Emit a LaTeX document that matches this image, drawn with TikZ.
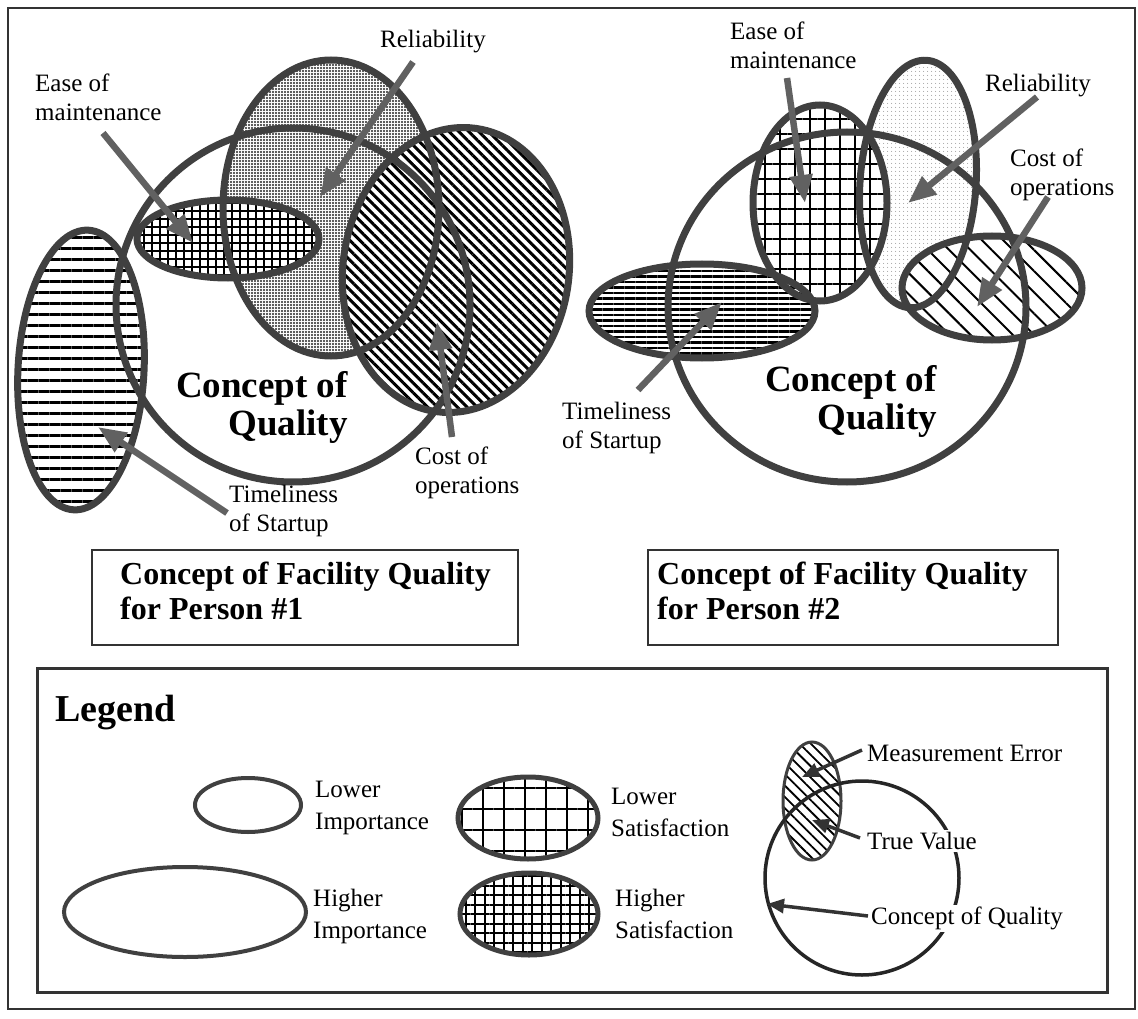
\documentclass[tikz,border=0pt]{standalone}
\usepackage{fontspec}
\setmainfont{Liberation Serif}
\usetikzlibrary{arrows.meta, patterns.meta}

\begin{document}
\begin{tikzpicture}[x=1pt, y=-1pt, >={Triangle[length=28pt,width=22pt]},
    rim/.style={draw=black!75, line width=7pt},
    legrim/.style={draw=black!75, line width=4pt},
    under/.style={preaction={fill=white}},
    pointer/.style={->, draw=black!62, line width=6.5pt},
    legpointer/.style={-{Triangle[length=17pt,width=14pt]}, draw=black!80, line width=3.5pt},
    lbl/.style={inner sep=0pt, anchor=north west, align=left, font=\fontsize{25}{28.5}\selectfont},
    leglbl/.style={lbl, font=\fontsize{25}{32}\selectfont},
    bigbold/.style={inner sep=0pt, anchor=north east, align=right, font=\bfseries\fontsize{37}{38}\selectfont},
    title/.style={inner sep=0pt, anchor=north west, align=left, font=\bfseries\fontsize{32}{35}\selectfont},
    frame/.style={draw=black!80, line width=2.5pt}]

  \useasboundingbox (0,0) rectangle (1138,1019);
  \draw[frame, line width=2pt] (8,8) rectangle (1135,1009);

  % person 1
  \coordinate (rel1) at (331,208);
  \coordinate (ease1) at (228,239);
  \coordinate (cost1) at (456,270);
  \coordinate (time1) at (81,370);
  \coordinate (cq1) at (293,305);

  \path[under, pattern={Dots[distance=3pt,radius=1.15pt]}, pattern color=black!85] (rel1) ellipse [x radius=108, y radius=148];
  \path[under, pattern={Hatch[distance=8pt,line width=2.5pt]}] (ease1) ellipse [x radius=91, y radius=39];
  \path[under, pattern={Lines[angle=-45,distance=7pt,line width=3pt]}, rotate around={-8:(cost1)}] (cost1) ellipse [x radius=113, y radius=143];
  \path[under, pattern={Lines[distance=11pt,line width=3pt]}, rotate around={-3:(time1)}] (time1) ellipse [x radius=63, y radius=140];

  \draw[rim] (rel1) ellipse [x radius=108, y radius=148];
  \draw[rim] (ease1) ellipse [x radius=91, y radius=39];
  \draw[rim, rotate around={-8:(cost1)}] (cost1) ellipse [x radius=113, y radius=143];
  \draw[rim, rotate around={-3:(time1)}] (time1) ellipse [x radius=63, y radius=140];
  \draw[rim] (cq1) circle [radius=177];

  \node[lbl] (rel1 lbl) at (380,30) {Reliability};
  \node[lbl] (ease1 lbl) at (35,74) {Ease of\\maintenance};
  \node[lbl] (cost1 lbl) at (415,447) {Cost of\\operations};
  \node[lbl] (time1 lbl) at (229,485) {Timeliness\\of Startup};
  \node[bigbold] (cq1 lbl) at (348,371) {Concept of\\Quality};

  \coordinate (rel1 tail) at (413,62);
  \coordinate (rel1 tip) at (320,197);
  \coordinate (ease1 tail) at (103,133);
  \coordinate (ease1 tip) at (193,243);
  \coordinate (cost1 tail) at (452,437);
  \coordinate (cost1 tip) at (437,322);
  \coordinate (time1 tail) at (227,513);
  \coordinate (time1 tip) at (98,427);
  \draw[pointer] (rel1 tail) -- (rel1 tip);
  \draw[pointer] (ease1 tail) -- (ease1 tip);
  \draw[pointer] (cost1 tail) -- (cost1 tip);
  \draw[pointer] (time1 tail) -- (time1 tip);

  % person 2
  \coordinate (rel2) at (918,184);
  \coordinate (ease2) at (820,203);
  \coordinate (cost2) at (992,288);
  \coordinate (time2) at (702,311);
  \coordinate (cq2) at (847,307);

  \path[under, pattern={Dots[distance=4pt,radius=0.55pt]}, pattern color=black!55, rotate around={-4:(rel2)}] (rel2) ellipse [x radius=58, y radius=124];
  \path[under, pattern={Hatch[distance=15pt,line width=1.8pt]}] (ease2) ellipse [x radius=67, y radius=98];
  \path[under, pattern={Lines[distance=5.5pt,line width=2.5pt]}] (time2) ellipse [x radius=113, y radius=47];
  \path[under, pattern={Lines[angle=-45,distance=15pt,line width=2pt]}] (cost2) ellipse [x radius=90, y radius=52];

  \draw[rim, rotate around={-4:(rel2)}] (rel2) ellipse [x radius=58, y radius=124];
  \draw[rim] (ease2) ellipse [x radius=67, y radius=98];
  \draw[rim] (time2) ellipse [x radius=113, y radius=47];
  \draw[rim] (cost2) ellipse [x radius=90, y radius=52];
  \draw[rim] (cq2) ellipse [x radius=179, y radius=175];

  \node[lbl] (ease2 lbl) at (730,22) {Ease of\\maintenance};
  \node[lbl] (rel2 lbl) at (985,74) {Reliability};
  \node[lbl] (cost2 lbl) at (1010,149) {Cost of\\operations};
  \node[lbl] (time2 lbl) at (562,402) {Timeliness\\of Startup};
  \node[bigbold] (cq2 lbl) at (937,365) {Concept of\\Quality};

  \coordinate (ease2 tail) at (787,78);
  \coordinate (ease2 tip) at (805,203);
  \coordinate (rel2 tail) at (1037,97);
  \coordinate (rel2 tip) at (908,203);
  \coordinate (cost2 tail) at (1048,197);
  \coordinate (cost2 tip) at (977,307);
  \coordinate (time2 tail) at (638,390);
  \coordinate (time2 tip) at (722,302);
  \draw[pointer] (ease2 tail) -- (ease2 tip);
  \draw[pointer] (rel2 tail) -- (rel2 tip);
  \draw[pointer] (cost2 tail) -- (cost2 tip);
  \draw[pointer] (time2 tail) -- (time2 tip);

  % captions
  \draw[frame] (92,550) rectangle (518,645);
  \node[title] (cap1) at (120,562) {Concept of Facility Quality\\for Person \#1};
  \draw[frame] (648,550) rectangle (1058,645);
  \node[title] (cap2) at (657,562) {Concept of Facility Quality\\for Person \#2};

  % legend
  \draw[frame, line width=3pt] (37,668) rectangle (1107,992);
  \node[inner sep=0pt, anchor=north west, font=\bfseries\fontsize{38}{40}\selectfont] (leg) at (55,695) {Legend};

  \coordinate (li) at (248,805);
  \coordinate (hi) at (185,912);
  \coordinate (ls) at (528,818);
  \coordinate (hs) at (529,914);
  \coordinate (me) at (812,801);
  \coordinate (cq) at (862,878);

  \draw[legrim] (li) ellipse [x radius=53, y radius=27];
  \draw[legrim] (hi) ellipse [x radius=121, y radius=45];
  \path[under, pattern={Hatch[distance=21pt,line width=2pt]}] (ls) ellipse [x radius=70, y radius=41];
  \draw[legrim, line width=5pt] (ls) ellipse [x radius=70, y radius=41];
  \path[under, pattern={Hatch[distance=9.5pt,line width=2pt]}] (hs) ellipse [x radius=69, y radius=41];
  \draw[legrim, line width=5pt] (hs) ellipse [x radius=69, y radius=41];
  \path[under, pattern={Lines[angle=-45,distance=8pt,line width=1.8pt]}] (me) ellipse [x radius=29, y radius=59];
  \draw[legrim, line width=3pt] (me) ellipse [x radius=29, y radius=59];
  \draw[draw=black!85, line width=3.5pt] (cq) circle [radius=97];

  \node[leglbl] (li lbl) at (315,781) {Lower\\Importance};
  \node[leglbl] (hi lbl) at (313,889) {Higher\\Importance};
  \node[leglbl] (ls lbl) at (611,788) {Lower\\Satisfaction};
  \node[leglbl] (hs lbl) at (615,889) {Higher\\Satisfaction};
  \node[leglbl, fill=white, inner sep=2pt] (me lbl) at (865,743) {Measurement Error};
  \node[leglbl, fill=white, inner sep=2pt] (tv lbl) at (865,830) {True Value};
  \node[leglbl, fill=white, inner sep=2pt] (cq lbl) at (869,905) {Concept of Quality};

  \coordinate (me tail) at (862,750);
  \coordinate (me tip) at (802,777);
  \coordinate (tv tail) at (860,838);
  \coordinate (tv tip) at (812,820);
  \coordinate (cq tail) at (868,916);
  \coordinate (cq tip) at (767,904);
  \draw[legpointer] (me tail) -- (me tip);
  \draw[legpointer] (tv tail) -- (tv tip);
  \draw[legpointer] (cq tail) -- (cq tip);
\end{tikzpicture}
\end{document}
